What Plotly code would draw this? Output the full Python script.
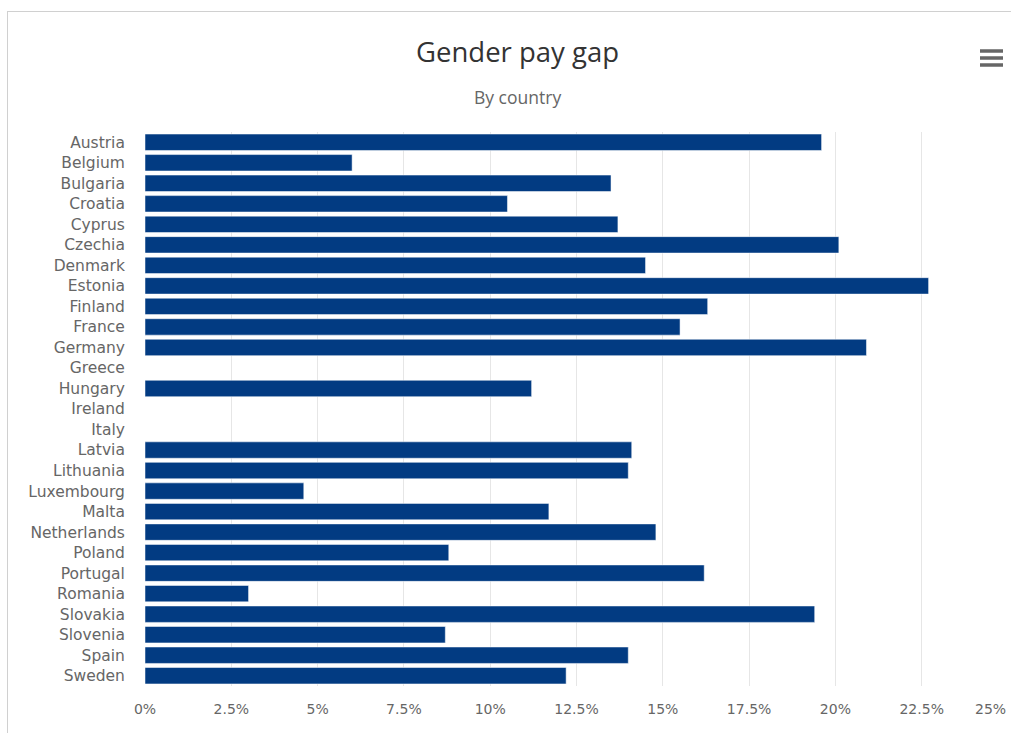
import plotly.graph_objects as go

countries = ["Austria", "Belgium", "Bulgaria", "Croatia", "Cyprus", "Czechia", "Denmark",
             "Estonia", "Finland", "France", "Germany", "Greece", "Hungary", "Ireland", "Italy",
             "Latvia", "Lithuania", "Luxembourg", "Malta", "Netherlands", "Poland", "Portugal",
             "Romania", "Slovakia", "Slovenia", "Spain", "Sweden"]
pay_gap = [19.6, 6.0, 13.5, 10.5, 13.7, 20.1, 14.5,
           22.7, 16.3, 15.5, 20.9, None, 11.2, None, None,
           14.1, 14.0, 4.6, 11.7, 14.8, 8.8, 16.2,
           3.0, 19.4, 8.7, 14.0, 12.2]
tick_vals = [0, 2.5, 5, 7.5, 10, 12.5, 15, 17.5, 20, 22.5]
tick_text = ["0%", "2.5%", "5%", "7.5%", "10%", "12.5%", "15%", "17.5%", "20%", "22.5%"]

W, H = 1011, 733
ML, MR, MT, MB = 145, 3, 132, 47
pw, ph = W - ML - MR, H - MT - MB

def px(x):
    return (x - ML) / pw

def py(y):
    return (H - MB - y) / ph

fig = go.Figure(go.Bar(
    y=countries, x=pay_gap, orientation="h",
    marker=dict(color="#023b82", line=dict(color="#ffffff", width=0.5)),
))

shapes = []
# container border (top and left)
shapes.append(dict(type="line", xref="paper", yref="paper", x0=px(7), x1=px(1030),
                   y0=py(11.5), y1=py(11.5), line=dict(color="#d0d0d0", width=1)))
shapes.append(dict(type="line", xref="paper", yref="paper", x0=px(7.5), x1=px(7.5),
                   y0=py(11), y1=py(760), line=dict(color="#d0d0d0", width=1)))
# menu icon
for yy in (51, 58, 65):
    shapes.append(dict(type="line", xref="paper", yref="paper", x0=px(980), x1=px(1003),
                       y0=py(yy), y1=py(yy), line=dict(color="#666666", width=3.5)))

annotations = [
    dict(text="Gender pay gap", xref="paper", yref="paper", x=px(517), y=py(52),
         xanchor="center", yanchor="middle", showarrow=False,
         font=dict(family="Open Sans", size=27.5, color="#333333")),
    dict(text="By country", xref="paper", yref="paper", x=px(517), y=py(97),
         xanchor="center", yanchor="middle", showarrow=False,
         font=dict(family="Open Sans", size=17.5, color="#666666")),
    dict(text="25%", xref="x", yref="paper", x=25, y=py(709), xanchor="right", yanchor="middle",
         showarrow=False, font=dict(family="DejaVu Sans", size=14, color="#666666")),
]

fig.update_layout(
    width=W, height=H,
    margin=dict(l=ML, r=MR, t=MT, b=MB, pad=0),
    paper_bgcolor="white", plot_bgcolor="white",
    showlegend=False, bargap=0.2,
    shapes=shapes, annotations=annotations,
    xaxis=dict(range=[0, 25], tickvals=tick_vals + [25], ticktext=tick_text + [""],
               showgrid=True, gridcolor="#e6e6e6", gridwidth=1, zeroline=False,
               showline=False, ticks="outside", ticklen=10, tickcolor="rgba(0,0,0,0)",
               tickfont=dict(family="DejaVu Sans", size=14, color="#666666")),
    yaxis=dict(categoryorder="array", categoryarray=countries, autorange="reversed",
               showgrid=False, zeroline=False, showline=False,
               ticks="outside", ticklen=16, tickcolor="rgba(0,0,0,0)",
               tickfont=dict(family="DejaVu Sans", size=15.5, color="#666666")),
)

fig.write_html("out.html")
